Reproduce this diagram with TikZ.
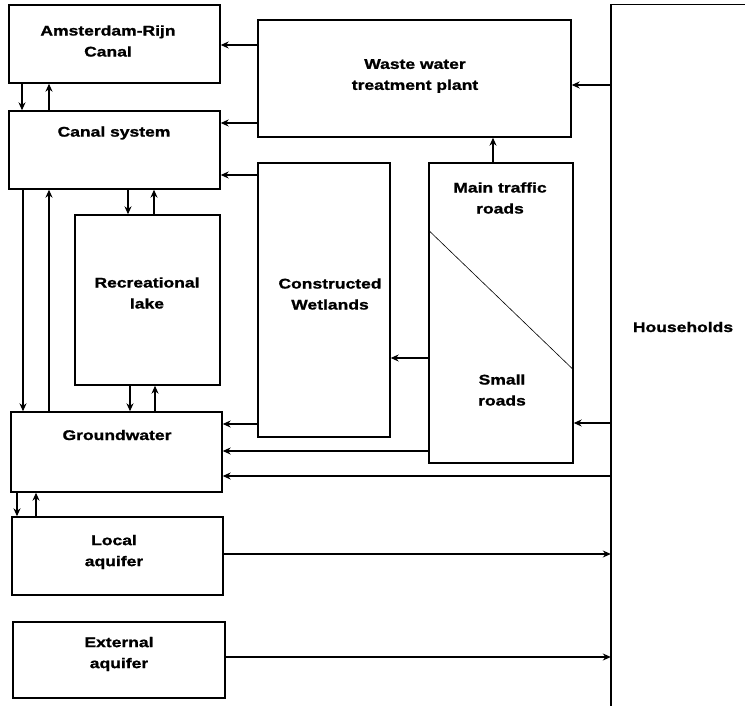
\documentclass[tikz,border=0pt]{standalone}
\usepackage{fontspec}
\newfontfamily\lbl[FakeStretch=1.25,FakeBold=1.2]{Liberation Sans Bold}
\usetikzlibrary{arrows.meta}
\begin{document}
\begin{tikzpicture}[x=1pt,y=-1pt,
  box/.style={draw,line width=1.4pt,inner sep=0pt},
  txt/.style={font=\lbl\fontsize{14}{21}\selectfont,align=center,inner sep=0pt},
  arr/.style={line width=1.2pt,-{Stealth[length=8pt,width=7pt]}},
  ln/.style={line width=1.1pt}]
\fill[white] (0,0) rectangle (748,706);
\useasboundingbox (0,0) rectangle (748,706);
% boxes: center, width, height
\newcommand\mkbox[5]{\node[box,minimum width={#4-#2},minimum height={#5-#3}] (#1) at ({(#2+#4)/2},{(#3+#5)/2}) {};}
\mkbox{ams}{9}{5}{220}{83}
\mkbox{canal}{9}{111}{220}{189}
\mkbox{wwtp}{258}{20}{571}{137}
\mkbox{wet}{258}{163}{390}{437}
\mkbox{roads}{429}{163}{573}{463}
\mkbox{lake}{75}{215}{220}{385}
\mkbox{gw}{11}{412}{222}{492}
\mkbox{loc}{12}{517}{223}{595}
\mkbox{ext}{13}{622}{225}{698}
% households (open box)
\node[inner sep=0pt,minimum width=134,minimum height=701] (house) at (678,355.5) {};
\draw[box] (house.south west) -- (house.north west) -- (house.north east);
% texts
\node[txt] (tams) at (108,41) {Amsterdam-Rijn\\Canal};
\node[txt] (tcanal) at (114,133) {Canal system};
\node[txt] (twwtp) at (415,76) {Waste water\\treatment plant};
\node[txt] (tmain) at (500,198) {Main traffic\\roads};
\node[txt] (twet) at (330,294) {Constructed\\Wetlands};
\node[txt] (tsmall) at (502,390) {Small\\roads};
\node[txt] (tlake) at (147,293) {Recreational\\lake};
\node[txt] (tgw) at (117,435) {Groundwater};
\node[txt] (tloc) at (114,552) {Local\\aquifer};
\node[txt] (text) at (119,654) {External\\aquifer};
\node[txt] (thouse) at (683,327) {Households};
% diagonal in roads box
\draw[line width=0.6pt] (roads.west |- 0,230) -- (roads.east |- 0,370);
% connectors
\draw[arr] (ams.south -| 22,0) -- (canal.north -| 22,0);
\draw[arr] (canal.north -| 49,0) -- (ams.south -| 49,0);
\draw[arr] (wwtp.west |- 0,45) -- (ams.east |- 0,45);
\draw[arr] (wwtp.west |- 0,123) -- (canal.east |- 0,123);
\draw[arr] (house.west |- 0,85) -- (wwtp.east |- 0,85);
\draw[arr] (roads.north -| 493,0) -- (wwtp.south -| 493,0);
\draw[arr] (wet.west |- 0,175) -- (canal.east |- 0,175);
\draw[arr] (roads.west |- 0,358) -- (wet.east |- 0,358);
\draw[arr] (house.west |- 0,423) -- (roads.east |- 0,423);
\draw[arr] (canal.south -| 128,0) -- (lake.north -| 128,0);
\draw[arr] (lake.north -| 154,0) -- (canal.south -| 154,0);
\draw[arr] (canal.south -| 23,0) -- (gw.north -| 23,0);
\draw[arr] (gw.north -| 49,0) -- (canal.south -| 49,0);
\draw[arr] (lake.south -| 130,0) -- (gw.north -| 130,0);
\draw[arr] (gw.north -| 155,0) -- (lake.south -| 155,0);
\draw[arr] (wet.west |- 0,424) -- (gw.east |- 0,424);
\draw[arr] (roads.west |- 0,451) -- (gw.east |- 0,451);
\draw[arr] (house.west |- 0,476) -- (gw.east |- 0,476);
\draw[arr] (gw.south -| 17,0) -- (loc.north -| 17,0);
\draw[arr] (loc.north -| 36,0) -- (gw.south -| 36,0);
\draw[arr] (loc.east |- 0,554) -- (house.west |- 0,554);
\draw[arr] (ext.east |- 0,657) -- (house.west |- 0,657);
\end{tikzpicture}
\end{document}
